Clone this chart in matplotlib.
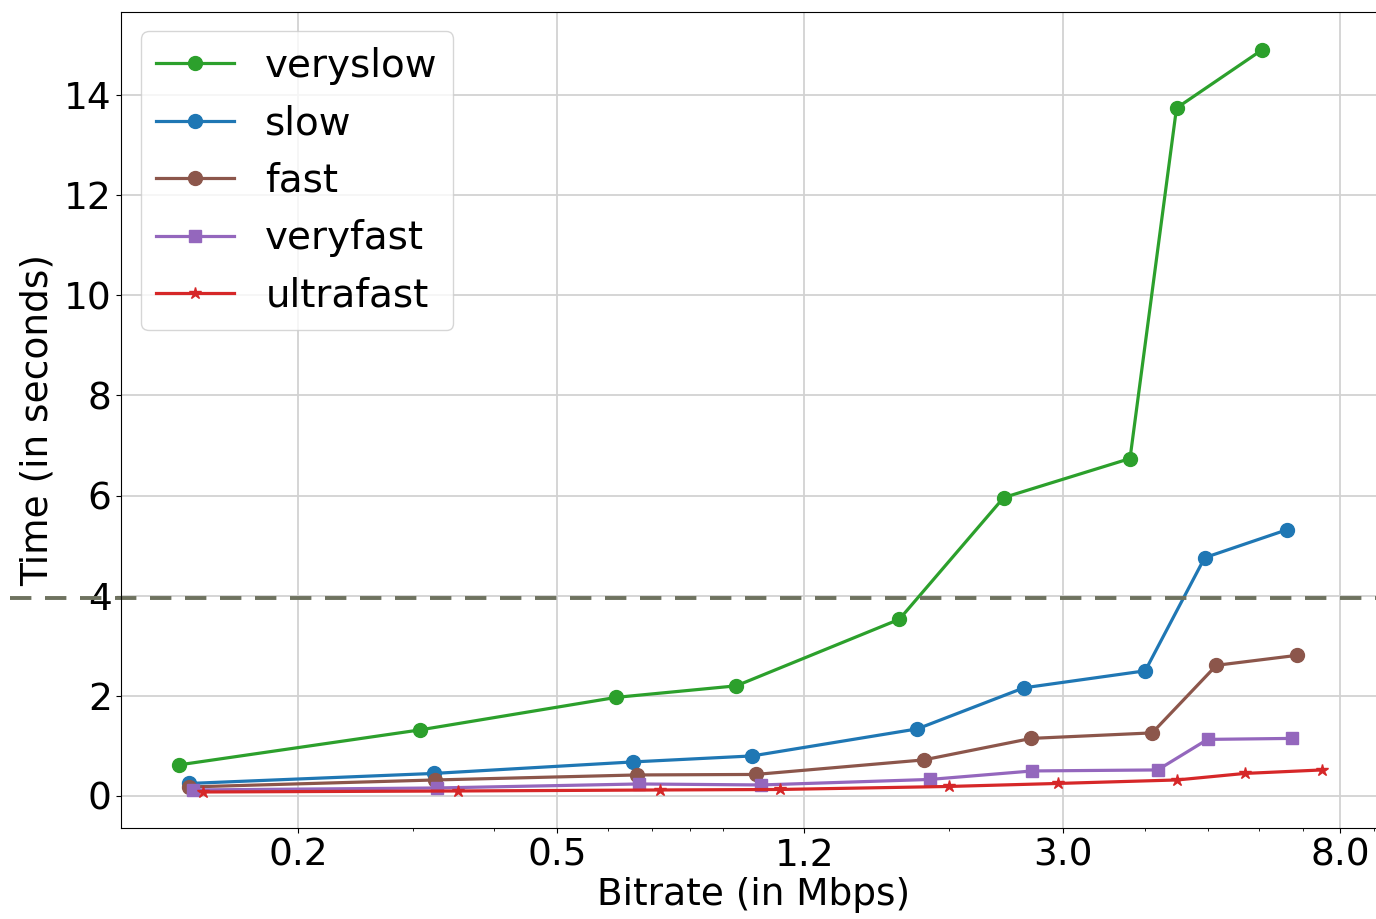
#!/usr/bin/env python3
"""Encoding time vs achieved bitrate for the x264 presets (log-x line plot)."""
import matplotlib

matplotlib.use("Agg")
import matplotlib.pyplot as plt
from matplotlib.ticker import NullFormatter

# achieved bitrate (Mbps) and encoding time (s) per preset
veryslow_x = [0.131, 0.308, 0.617, 0.943, 1.68, 2.43, 3.80, 4.48, 6.06]
veryslow_y = [0.62, 1.32, 1.97, 2.20, 3.53, 5.96, 6.74, 13.74, 14.90]

slow_x = [0.136, 0.323, 0.654, 0.998, 1.79, 2.61, 4.01, 4.95, 6.63]
slow_y = [0.25, 0.45, 0.68, 0.80, 1.34, 2.16, 2.50, 4.76, 5.32]

fast_x = [0.136, 0.325, 0.664, 1.01, 1.83, 2.68, 4.11, 5.16, 6.87]
fast_y = [0.18, 0.32, 0.42, 0.43, 0.72, 1.15, 1.26, 2.61, 2.81]

veryfast_x = [0.138, 0.327, 0.669, 1.03, 1.87, 2.69, 4.19, 5.00, 6.75]
veryfast_y = [0.12, 0.16, 0.24, 0.22, 0.33, 0.50, 0.52, 1.13, 1.15]

ultrafast_x = [0.143, 0.352, 0.72, 1.10, 2.00, 2.94, 4.49, 5.70, 7.50]
ultrafast_y = [0.08, 0.10, 0.12, 0.13, 0.19, 0.25, 0.32, 0.45, 0.52]

xtick_vals = [0.2, 0.5, 1.2, 3.0, 8.0]
xtick_labels = ["0.2", "0.5", "1.2", "3.0", "8.0"]
ytick_vals = [0, 2, 4, 6, 8, 10, 12, 14]
threshold = 3.96

_STYLES = [
    (veryslow_x, veryslow_y, dict(marker="o", color="tab:green", ms=10, label="veryslow")),
    (slow_x, slow_y, dict(marker="o", color="tab:blue", ms=10, label="slow")),
    (fast_x, fast_y, dict(marker="o", color="tab:brown", ms=10, label="fast")),
    (veryfast_x, veryfast_y, dict(marker="s", color="tab:purple", ms=9, label="veryfast")),
    (ultrafast_x, ultrafast_y, dict(marker="*", color="tab:red", ms=9, label="ultrafast")),
]


def main() -> None:
    fig = plt.figure(figsize=(13.76, 9.19), dpi=100)
    # the original is cropped just inside the right spine
    ax = fig.add_axes([0.0882, 0.099, 0.919, 0.888])

    for xs, ys, style in _STYLES:
        ax.plot(xs, ys, linewidth=2.3, **style)

    ax.axhline(threshold, xmin=-0.088, xmax=1.0, clip_on=False,
               color="#6e725f", linestyle=(0, (5.5, 3.5)), linewidth=2.8)

    ax.set_xscale("log")
    ax.set_xlim(0.107, 9.4)
    ax.set_ylim(-0.64, 15.66)
    ax.set_xticks(xtick_vals)
    ax.set_xticklabels(xtick_labels)
    ax.xaxis.set_minor_formatter(NullFormatter())
    ax.set_yticks(ytick_vals)
    ax.tick_params(labelsize=27)
    ax.spines["right"].set_visible(False)

    ax.set_xlabel("Bitrate (in Mbps)", fontsize=27, labelpad=2)
    ax.set_ylabel("Time (in seconds)", fontsize=27, labelpad=6)
    ax.grid(True, which="major", color="#d2d2d2", linewidth=1.3)
    ax.set_axisbelow(True)
    ax.legend(fontsize=28, loc="upper left", handlelength=2.0)

    fig.savefig("out.png", dpi=100)
    plt.close(fig)


if __name__ == "__main__":
    main()
